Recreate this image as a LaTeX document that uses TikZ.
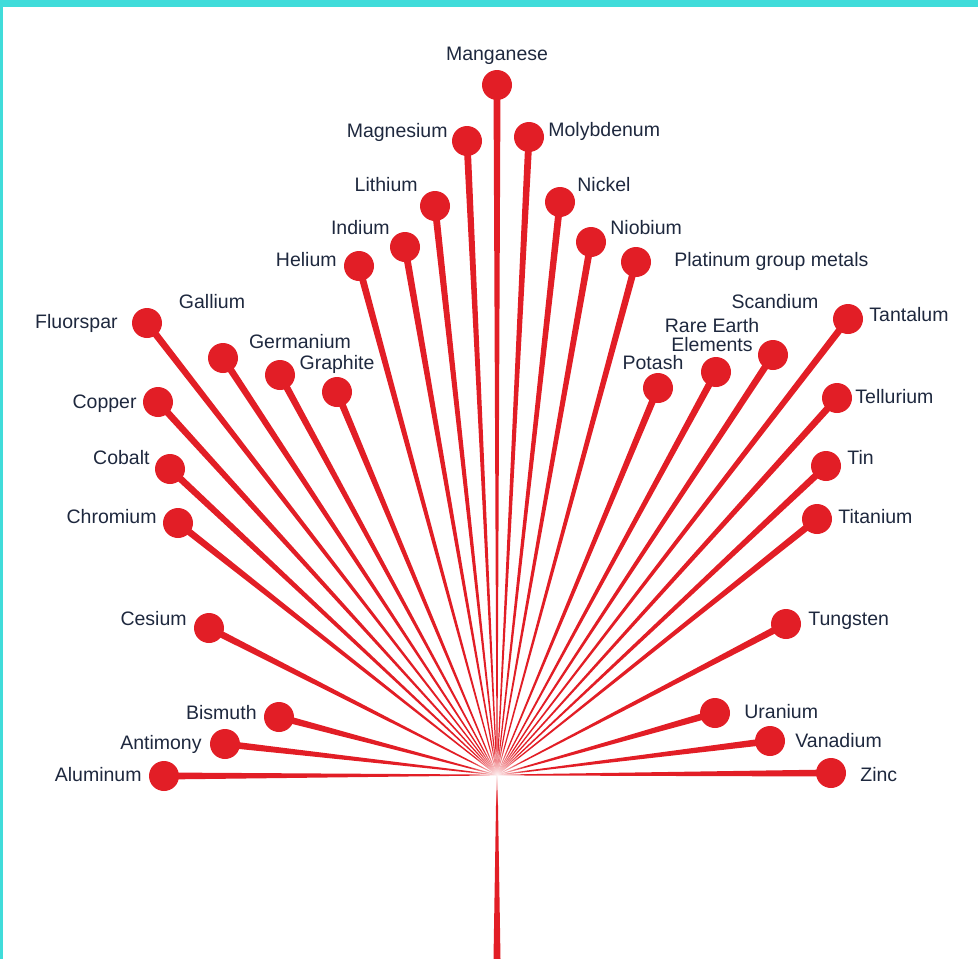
\documentclass[tikz,border=0pt]{standalone}
\usepackage{fontspec}
\setmainfont{Liberation Sans}
\usetikzlibrary{positioning,calc,fadings}
\definecolor{leafred}{RGB}{226,30,38}
\definecolor{labelblue}{RGB}{30,40,62}
\definecolor{framecyan}{RGB}{64,220,218}
\tikzfading[name=glow, inner color=transparent!5, outer color=transparent!100]

\begin{document}
\begin{tikzpicture}[x=1pt, y=-1pt,
	dot/.style={circle,fill=leafred,inner sep=0pt,minimum size=30pt},
	lblbase/.style={font=\fontsize{19.5}{19}\selectfont,text=labelblue,inner sep=0pt},
	lbl/.style={lblbase,text height=15pt,text depth=3pt},
	spoke/.style={fill=leafred}]
	
	\useasboundingbox (0,0) rectangle (978,959);
	\fill[framecyan] (0,0) rectangle (978,7);
	\fill[framecyan] (0,0) rectangle (3,959);
	
	\coordinate (c) at (497,775);
	\coordinate (base) at (497,959);
	
	% dots
	\node[dot] (Mn) at (497,85) {};
	\node[dot] (Mg) at (467,141) {};
	\node[dot] (Mo) at (529,137) {};
	\node[dot] (Li) at (435,206) {};
	\node[dot] (Ni) at (560,202) {};
	\node[dot] (In) at (405,247) {};
	\node[dot] (Nb) at (591,242) {};
	\node[dot] (He) at (359,266) {};
	\node[dot] (PGM) at (636,262) {};
	\node[dot] (Fl) at (147,323) {};
	\node[dot] (Ga) at (223,358) {};
	\node[dot] (Ge) at (280,375) {};
	\node[dot] (Gr) at (337,392) {};
	\node[dot] (Cu) at (158,402) {};
	\node[dot] (Co) at (170,469) {};
	\node[dot] (Cr) at (178,523) {};
	\node[dot] (Cs) at (209,628) {};
	\node[dot] (Bi) at (279,717) {};
	\node[dot] (Sb) at (225,744) {};
	\node[dot] (Al) at (164,776) {};
	\node[dot] (K) at (658,388) {};
	\node[dot] (REE) at (716,372) {};
	\node[dot] (Sc) at (773,355) {};
	\node[dot] (Ta) at (848,319) {};
	\node[dot] (Te) at (837,398) {};
	\node[dot] (Sn) at (826,466) {};
	\node[dot] (Ti) at (817,519) {};
	\node[dot] (W) at (786,624) {};
	\node[dot] (U) at (715,713) {};
	\node[dot] (V) at (770,741) {};
	\node[dot] (Zn) at (831,773) {};
	
	% spokes, thin at the centre
	\foreach \d in {Mn,Mg,Mo,Li,Ni,In,Nb,He,PGM,Fl,Ga,Ge,Gr,Cu,Co,Cr,Cs,Bi,Sb,Al,K,REE,Sc,Ta,Te,Sn,Ti,W,U,V,Zn}
	\fill[spoke] ($(c)!0.4pt!90:(\d.center)$) -- ($(\d.center)!3.5pt!-90:(c)$)
	-- ($(\d.center)!3.5pt!90:(c)$) -- ($(c)!0.4pt!-90:(\d.center)$) -- cycle;
	
	% stem
	\fill[spoke] ($(c)!0.5pt!90:(base)$) -- ($(base)!3.5pt!-90:(c)$)
	-- ($(base)!3.5pt!90:(c)$) -- ($(c)!0.5pt!-90:(base)$) -- cycle;
	\fill[white, path fading=glow] (c) circle (30pt);
	
	% labels
	\node[lbl] (tMn) [above=6pt of Mn] {Manganese};
	\node[lbl] (tMg) [left=4pt of Mg, yshift=10pt] {Magnesium};
	\node[lbl] (tLi) [left=2pt of Li, yshift=21pt] {Lithium};
	\node[lbl] (tIn) [left=0pt of In, yshift=19pt] {Indium};
	\node[lbl] (tHe) [left=7pt of He, yshift=6pt] {Helium};
	\node[lbl] (tFl) [left=14pt of Fl, yshift=1pt] {Fluorspar};
	\node[lbl] (tGa) [above=31pt of Ga, xshift=-11pt] {Gallium};
	\node[lbl] (tGe) [above=8pt of Ge, xshift=20pt] {Germanium};
	\node[lbl] (tGr) [above=4pt of Gr] {Graphite};
	\node[lbl] (tCu) [left=6pt of Cu] {Copper};
	\node[lbl] (tCo) [left=5pt of Co, yshift=11pt] {Cobalt};
	\node[lbl] (tCr) [left=6pt of Cr, yshift=6pt] {Chromium};
	\node[lbl] (tCs) [left=7pt of Cs, yshift=9pt] {Cesium};
	\node[lbl] (tBi) [left=7pt of Bi, yshift=4pt] {Bismuth};
	\node[lbl] (tSb) [left=8pt of Sb, yshift=1pt] {Antimony};
	\node[lbl] (tAl) [left=7pt of Al, yshift=1pt] {Aluminum};
	
	\node[lbl] (tMo) [right=4pt of Mo, yshift=7pt] {Molybdenum};
	\node[lbl] (tNi) [right=2pt of Ni, yshift=17pt] {Nickel};
	\node[lbl] (tNb) [right=4pt of Nb, yshift=14pt] {Niobium};
	\node[lbl] (tPGM) [right=23pt of PGM, yshift=2pt] {Platinum group metals};
	\node[lbl] (tK) [above=0pt of K, xshift=-5pt] {Potash};
	\node[lblbase, align=center] (tREE) [above=5pt of REE, xshift=-4pt] {Rare Earth\\Elements};
	\node[lbl] (tSc) [above=28pt of Sc, xshift=2pt] {Scandium};
	\node[lbl] (tTa) [right=6pt of Ta, yshift=4pt] {Tantalum};
	\node[lbl] (tTe) [right=3pt of Te, yshift=1pt] {Tellurium};
	\node[lbl] (tSn) [right=6pt of Sn, yshift=8pt] {Tin};
	\node[lbl] (tTi) [right=6pt of Ti, yshift=2pt] {Titanium};
	\node[lbl] (tW) [right=7pt of W, yshift=5pt] {Tungsten};
	\node[lbl] (tU) [right=14pt of U, yshift=1pt] {Uranium};
	\node[lbl] (tV) [right=10pt of V] {Vanadium};
	\node[lbl] (tZn) [right=14pt of Zn, yshift=-2pt] {Zinc};
	
\end{tikzpicture}
\end{document}
